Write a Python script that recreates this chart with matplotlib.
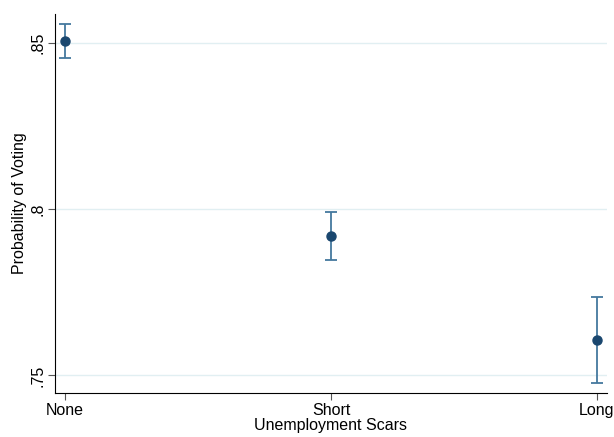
import matplotlib
matplotlib.use("Agg")
import matplotlib.pyplot as plt
import numpy as np

plt.rcParams["font.family"] = ["Liberation Sans", "DejaVu Sans"]

categories = ["None", "Short", "Long"]
prob = [0.8507, 0.7920, 0.7606]
ci_low = [0.8456, 0.7846, 0.7477]
ci_high = [0.8558, 0.7993, 0.7735]

NAVY = "#1a476f"
CAP = "#44789e"

fig = plt.figure(figsize=(6.14, 4.37), dpi=100)
ax = fig.add_axes([55 / 614, 44 / 437, 552 / 614, 379 / 437])

x = np.arange(len(categories))
prob = np.array(prob)
yerr = [prob - np.array(ci_low), np.array(ci_high) - prob]
ax.errorbar(x, prob, yerr=yerr, fmt="none", ecolor=CAP, elinewidth=1.3,
            capsize=4, capthick=1.3, zorder=2)
ax.plot(x, prob, "o", color=NAVY, markersize=6.5, zorder=3)

ax.set_xlim(-0.0376, 2.0376)
ax.set_ylim(0.7447, 0.8588)
ax.set_xticks(x)
ax.set_xticklabels(categories, fontsize=11.5)
ax.set_yticks([0.75, 0.8, 0.85])
ax.set_yticklabels([".75", ".8", ".85"], fontsize=11.5, rotation=90, va="center")
ax.grid(axis="y", color="#e1eff2", linewidth=1)
ax.set_axisbelow(True)
for s in ["top", "right"]:
    ax.spines[s].set_visible(False)
ax.tick_params(length=5, color="#555555", pad=2)
ax.set_xlabel("Unemployment Scars", fontsize=11.5, labelpad=0)
ax.set_ylabel("Probability of Voting", fontsize=11.5, labelpad=2)

fig.savefig("out.png", dpi=100)
